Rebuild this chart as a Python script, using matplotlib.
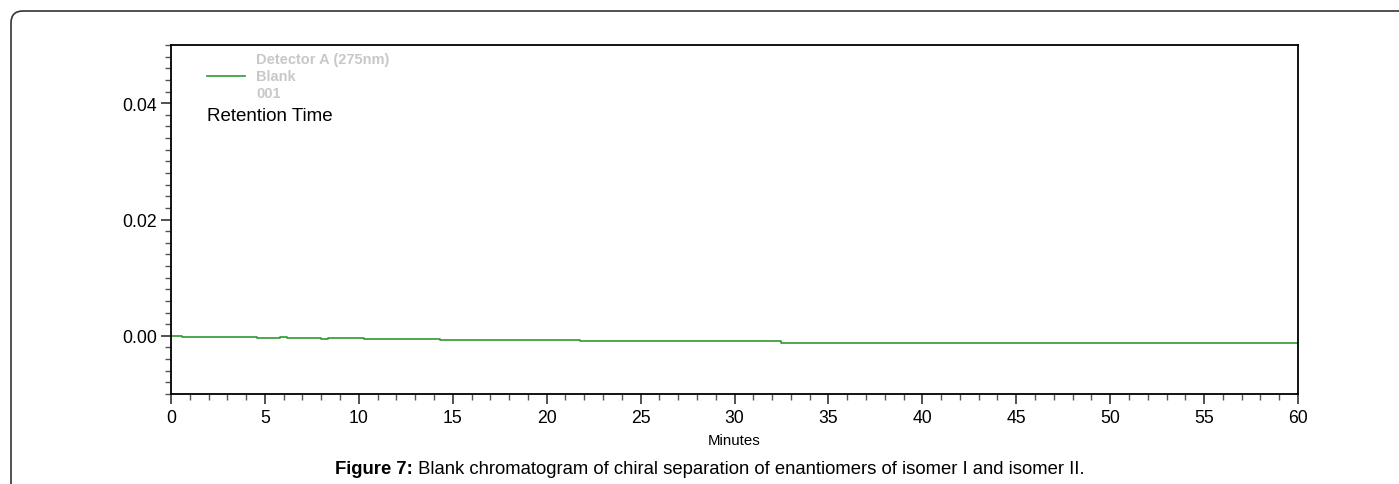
import matplotlib
matplotlib.use("Agg")
import matplotlib.pyplot as plt
from matplotlib.path import Path
from matplotlib.patches import PathPatch
from matplotlib.ticker import MultipleLocator, FormatStrFormatter

plt.rcParams['font.family'] = ['Liberation Sans', 'DejaVu Sans']

# step-like baseline drift (minutes, AU)
time_min = [0.0, 0.58, 0.58, 4.56, 4.56, 5.8, 5.8, 6.2, 6.2, 8.0, 8.0, 8.35, 8.35,
            10.3, 10.3, 14.3, 14.3, 21.8, 21.8, 32.5, 32.5, 60.0]
absorb = [0.0, 0.0, -0.00017, -0.00017, -0.0004, -0.0004, -0.00017, -0.00017,
          -0.00045, -0.00045, -0.0006, -0.0006, -0.00045, -0.00045, -0.0006,
          -0.0006, -0.0008, -0.0008, -0.00095, -0.00095, -0.00116, -0.00116]

legend_lines = ["Detector A (275nm)", "Blank", "001"]
x_label = "Minutes"
caption_bold = "Figure 7:"
caption_rest = " Blank chromatogram of chiral separation of enantiomers of isomer I and isomer II."

W, H = 1399, 485
fig = plt.figure(figsize=(W/100, H/100), dpi=100)

# rounded frame (open to right and bottom), in pixel coords with y from top
def px(x, y):
    return (x / W, 1 - y / H)
r = 12
x0, y0 = 11, 12
verts = [px(x0, H + 5), px(x0, y0 + r), px(x0, y0), px(x0 + r, y0), px(W + 5, y0)]
codes = [Path.MOVETO, Path.LINETO, Path.CURVE3, Path.CURVE3, Path.LINETO]
fig.patches.append(PathPatch(Path(verts, codes), transform=fig.transFigure,
                             fc='none', ec='#333333', lw=1.2))

ax = fig.add_axes([171/W, 1 - 395/H, (1298-171)/W, (395-46)/H])
ax.plot(time_min, absorb, color='#2f9a2f', lw=1.2)
ax.set_xlim(0, 60)
ax.set_ylim(-0.01, 0.05)
ax.xaxis.set_major_locator(MultipleLocator(5))
ax.xaxis.set_minor_locator(MultipleLocator(1))
ax.yaxis.set_major_locator(MultipleLocator(0.02))
ax.yaxis.set_minor_locator(MultipleLocator(0.002))
ax.yaxis.set_major_formatter(FormatStrFormatter('%.2f'))
ax.tick_params(which='major', length=7, width=1.2, color='#333333', labelsize=12.7, pad=3)
ax.tick_params(which='minor', length=4, width=1.0, color='#555555')
ax.tick_params(axis='x', which='major', pad=4)
for s in ax.spines.values():
    s.set_linewidth(1.3)
    s.set_color('black')
ax.set_xlabel(x_label, fontsize=10.8, labelpad=5)

# legend-like annotations
ax.plot([(207-171)/1127*60, (245-171)/1127*60], [0.0446, 0.0446], color='#2f9a2f', lw=1.2)
for i, t in enumerate(legend_lines):
    ax.text((256-171)/1127*60, 0.0476 - i*0.00295, t, fontsize=10.5, fontweight='bold',
            color='#c8c8c8', va='center', ha='left')
ax.text((207-171)/1127*60, 0.0379, "Retention Time", fontsize=13.5, color='black',
        va='center', ha='left')

# caption
fig.canvas.draw()
rend = fig.canvas.get_renderer()
tb = fig.text(0, 1 - 470/H, caption_bold, fontsize=13.3, fontweight='bold', va='center')
tr = fig.text(0, 1 - 470/H, caption_rest, fontsize=13.3, va='center')
wb = tb.get_window_extent(rend).width
wr = tr.get_window_extent(rend).width
cx = 710 - (wb + wr) / 2
tb.set_x(cx / W)
tr.set_x((cx + wb) / W)

fig.savefig("out.png", dpi=100)
